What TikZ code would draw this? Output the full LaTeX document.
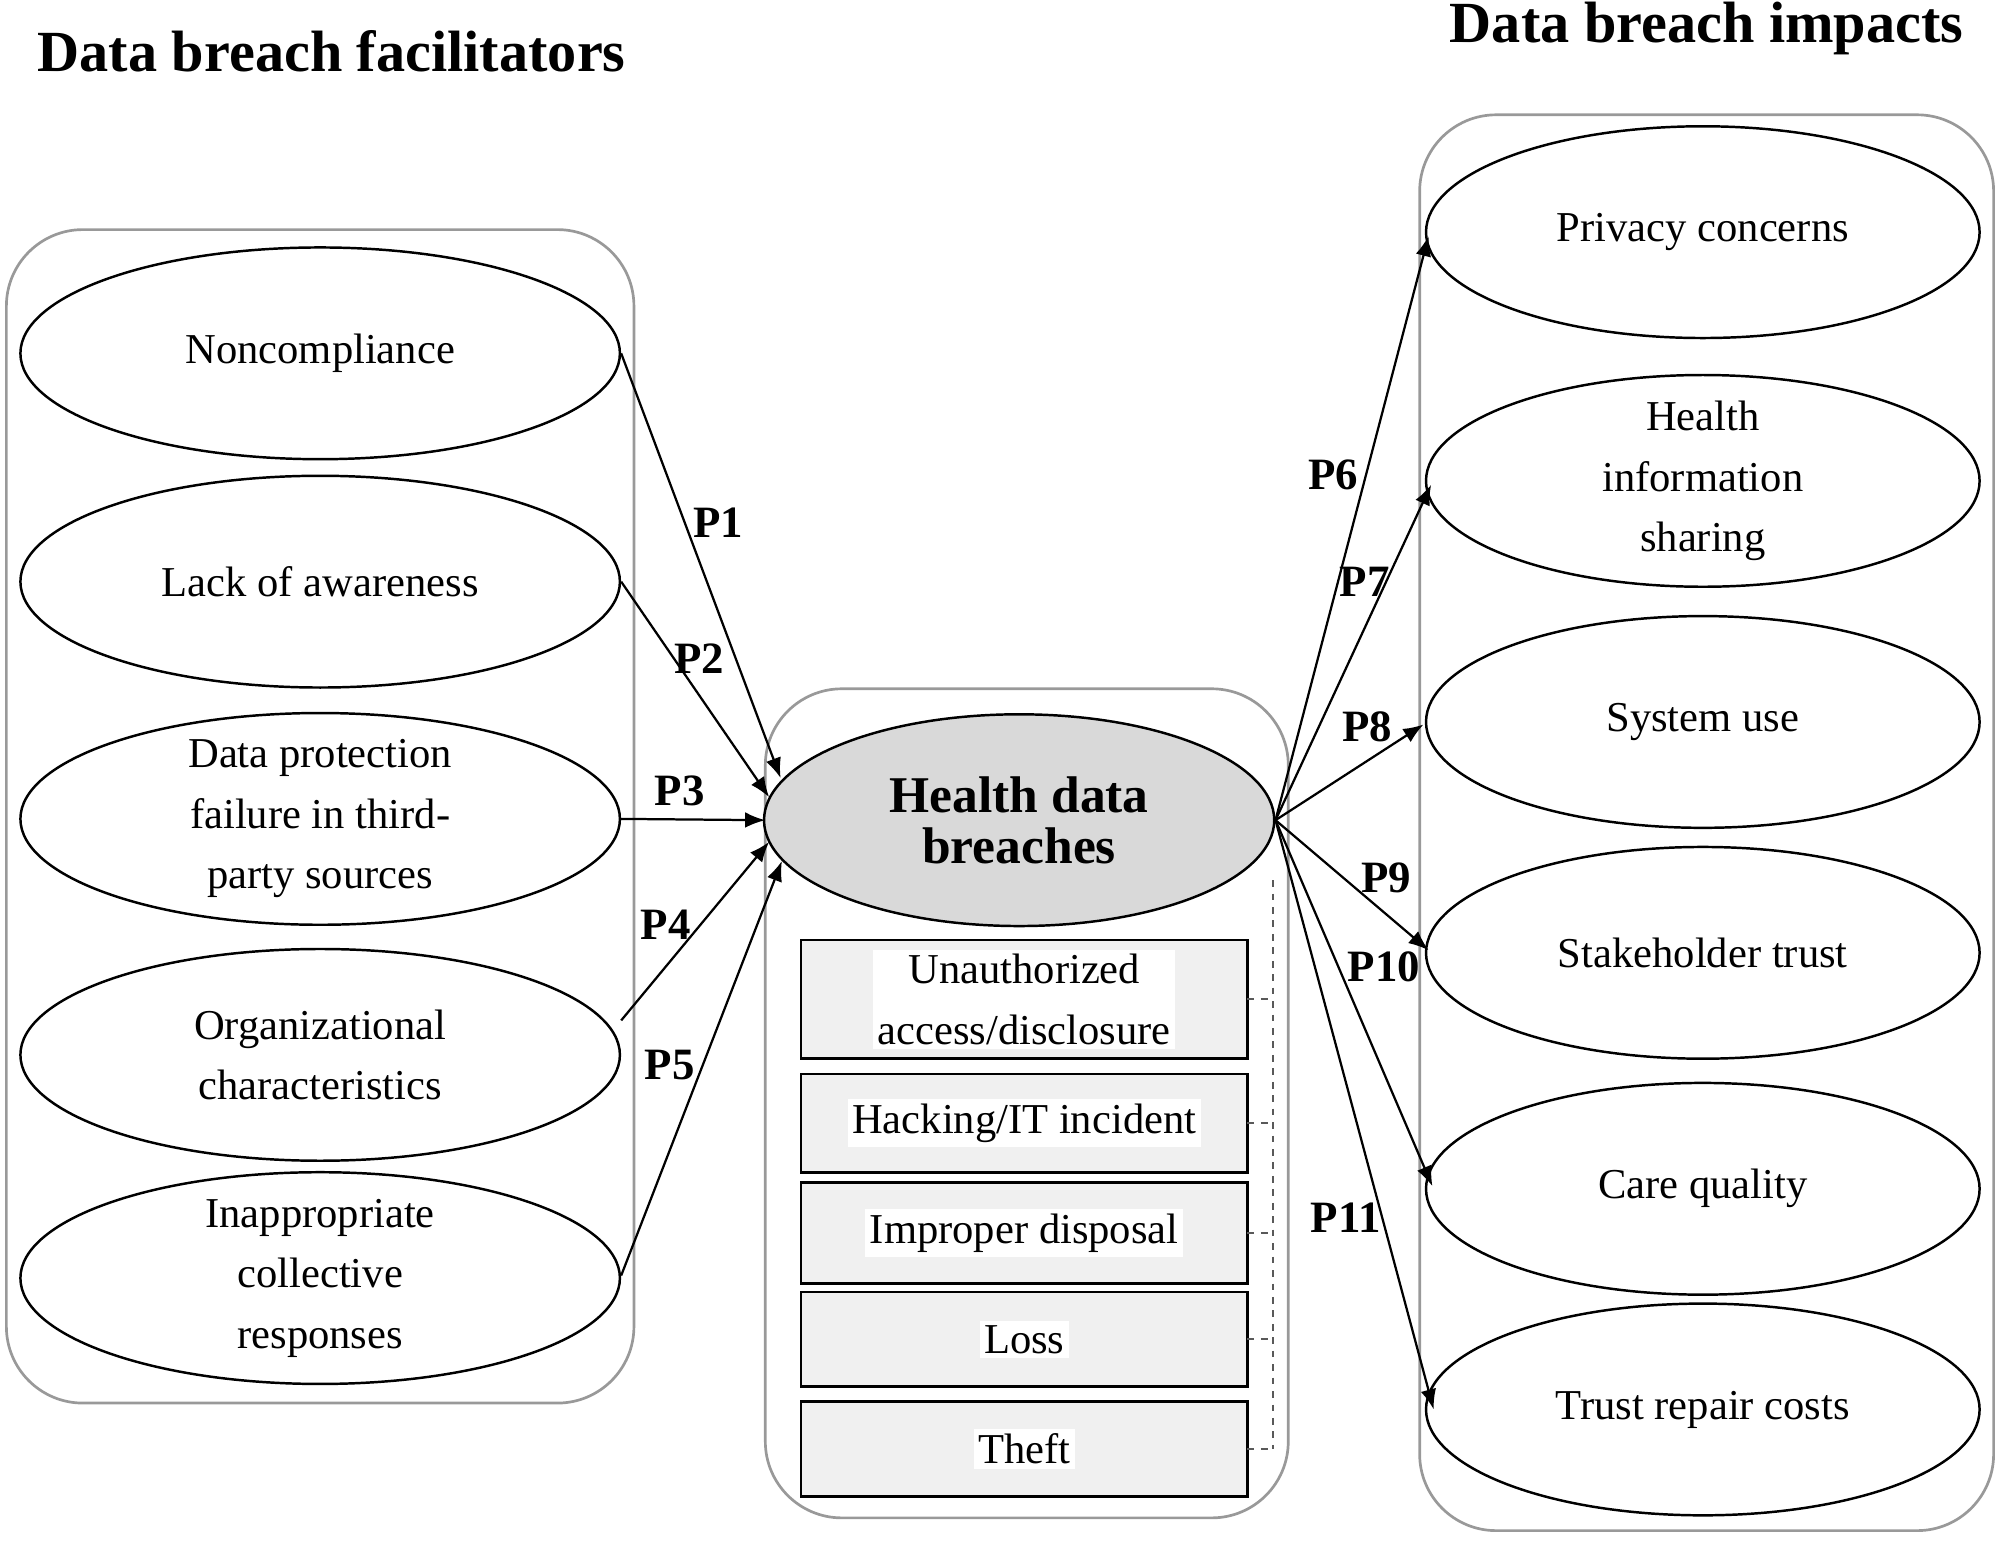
\documentclass[tikz,border=0pt]{standalone}
\usepackage{fontspec}
\setmainfont{Liberation Serif}
\usetikzlibrary{arrows.meta}
\begin{document}
\begin{tikzpicture}[x=0.02cm,y=-0.02cm,
 cont/.style={draw=gray!80,line width=1.2pt,rounded corners=1.2cm},
 lab/.style={fill=white,align=center,font=\fontsize{19}{27}\selectfont,inner sep=2pt},
 etxt/.style={align=center,font=\fontsize{19}{27}\selectfont},
 pl/.style={font=\bfseries\fontsize{20}{22}\selectfont},
 arr/.style={-{Latex[length=9pt,width=7pt]},line width=1pt},
 dsh/.style={dashed,gray!70!black,line width=0.8pt}]
\useasboundingbox (0,0) rectangle (1568,1208);
\node[font=\bfseries\fontsize{26}{28}\selectfont] (t1) at (260,40) {Data breach facilitators};
\node[font=\bfseries\fontsize{26}{28}\selectfont] (t2) at (1338,22) {Data breach impacts};
\draw[cont] (5,180) rectangle (497,1100);
\draw[cont] (600,540) rectangle (1010,1190);
\draw[cont] (1113,90) rectangle (1563,1200);
\foreach \n/\y/\t in {a/277/Noncompliance,b/456/Lack of awareness,c/642/{Data protection\\failure in third-\\party sources},d/827/{Organizational\\characteristics},e/1002/{Inappropriate\\collective\\responses}}
 \draw[line width=1.1pt] (251,\y) ellipse [x radius=235,y radius=83] node[etxt] (\n) {\t};
\foreach \n/\y/\t in {f/182/Privacy concerns,g/377/{Health\\information\\sharing},h/566/System use,i/747/Stakeholder trust,j/932/Care quality,k/1105/Trust repair costs}
 \draw[line width=1.1pt] (1335,\y) ellipse [x radius=217,y radius=83] node[etxt] (\n) {\t};
\draw[line width=1.1pt,fill=gray!30] (799,643) ellipse [x radius=200,y radius=83];
\node[align=center,font=\bfseries\fontsize{23}{23}\selectfont] (hd) at (799,643) {Health data\\breaches};
\coordinate (hc) at (1000,643);
% boxes
\foreach \n/\a/\b/\t in {b1/737/830/{Unauthorized\\access/disclosure},b2/842/919/{Hacking/IT incident},b3/927/1006/Improper disposal,b4/1013/1087/Loss,b5/1099/1173/Theft}{
 \draw[line width=1.2pt,fill=gray!12] (628,\a) rectangle (978,\b);
 \node[lab] (\n) at (803,{(\a+\b)/2}) {\t};
 \coordinate (\n r) at (978,{(\a+\b)/2});
 \coordinate (\n d) at (998,{(\a+\b)/2});
 \draw[dsh] (\n r) -- (\n d);}
\coordinate (dtop) at (998,690);
\draw[dsh] (dtop) -- (b5d);
% arrows left
\coordinate (ae) at (487,277); \coordinate (be) at (487,456); \coordinate (ce) at (487,642); \coordinate (de) at (487,800); \coordinate (ee) at (487,1000);
\coordinate (p1) at (612,610); \coordinate (p2) at (603,625); \coordinate (p3) at (600,643); \coordinate (p4) at (603,660); \coordinate (p5) at (613,675);
\draw[arr] (ae) -- (p1); \draw[arr] (be) -- (p2); \draw[arr] (ce) -- (p3); \draw[arr] (de) -- (p4); \draw[arr] (ee) -- (p5);
% arrows right
\coordinate (fw) at (1120,185); \coordinate (gw) at (1122,380); \coordinate (hw) at (1116,568); \coordinate (iw) at (1120,745); \coordinate (jw) at (1123,930); \coordinate (kw) at (1124,1105);
\foreach \t in {fw,gw,hw,iw,jw,kw} \draw[arr] (hc) -- (\t);
\foreach \l/\x/\y in {P1/563/410,P2/548/516,P3/533/620,P4/522/725,P5/525/835,P6/1045/372,P7/1070/456,P8/1072/570,P9/1087/688,P10/1085/758,P11/1055/955}
 \node[pl] (l\l) at (\x,\y) {\l};
\end{tikzpicture}
\end{document}
